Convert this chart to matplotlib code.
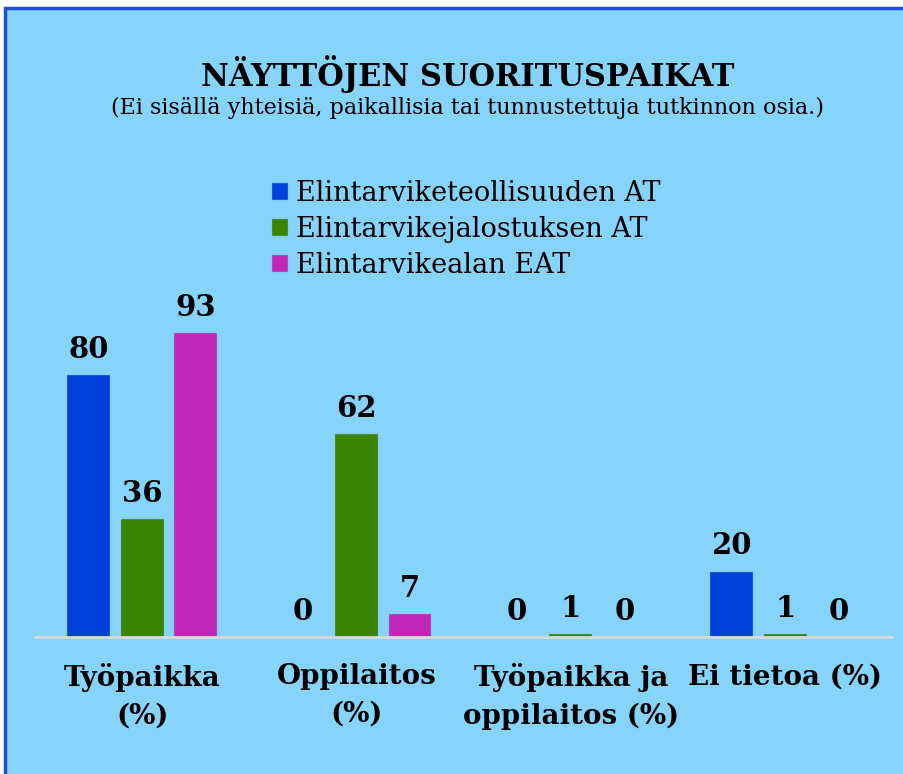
import numpy as np
import matplotlib
matplotlib.use("Agg")
import matplotlib.pyplot as plt
from matplotlib.patches import Rectangle

categories = ["Työpaikka\n(%)", "Oppilaitos\n(%)", "Työpaikka ja\noppilaitos (%)", "Ei tietoa (%)"]
series = ["Elintarviketeollisuuden AT", "Elintarvikejalostuksen AT", "Elintarvikealan EAT"]
teollisuus = [80, 0, 0, 20]
jalostus = [36, 62, 1, 1]
eat = [93, 7, 0, 0]

BG = "#86D3FC"
COLORS = ["#0041D9", "#3A8500", "#C026B8"]
SERIF = ["DejaVu Serif", "Liberation Serif"]

fig = plt.figure(figsize=(9.04, 7.74), dpi=100)
fig.patch.set_facecolor("white")
# light blue panel with dark blue frame (only top/left edges visible)
fig.patches.append(Rectangle((0.005, -0.02), 1.05, 1.01, transform=fig.transFigure,
                             facecolor=BG, edgecolor="#1F4FD8", lw=2.5, zorder=-10))

ax = fig.add_axes([0.0387, 0.177, 0.9483, 0.4225])
ax.set_facecolor("none")
x = np.arange(len(categories))
w, off = 0.2, 0.25
for i, (vals, c) in enumerate(zip([teollisuus, jalostus, eat], COLORS)):
    b = ax.bar(x + (i - 1) * off, vals, w, color=c, edgecolor="#7FB3F0", lw=0.3, label=series[i])
    ax.bar_label(b, padding=8, fontsize=21, fontweight="bold", family=SERIF)

ax.set_xlim(-0.5, 3.5); ax.set_ylim(0, 100)
for s in ["top", "right", "left"]:
    ax.spines[s].set_visible(False)
ax.spines["bottom"].set_color("#D9D9D9"); ax.spines["bottom"].set_linewidth(2)
ax.set_yticks([])
ax.set_xticks(x)
ax.set_xticklabels(categories, fontsize=20, fontweight="bold", family=SERIF, linespacing=1.5)
ax.tick_params(axis="x", length=0, pad=19)

fig.text(0.517, 0.904, "NÄYTTÖJEN SUORITUSPAIKAT", ha="center", va="center", fontsize=22,
         fontweight="bold", family="DejaVu Serif")
fig.text(0.517, 0.860, "(Ei sisällä yhteisiä, paikallisia tai tunnustettuja tutkinnon osia.)",
         ha="center", va="center", fontsize=16, family="DejaVu Serif")

leg = fig.legend(loc="upper left", bbox_to_anchor=(0.289, 0.781), frameon=False,
                 prop={"family": SERIF, "size": 19.5}, handlelength=0.6, handleheight=0.6,
                 handletextpad=0.3, labelspacing=0.33, borderaxespad=0)

fig.savefig("out.png", dpi=100, facecolor=fig.get_facecolor())
